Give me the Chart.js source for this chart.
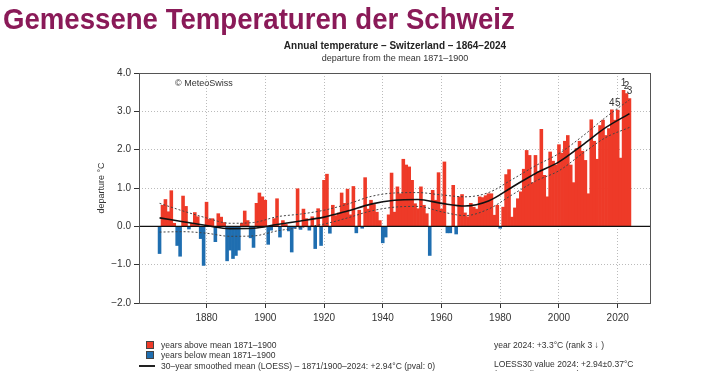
<!DOCTYPE html>
<html lang="en">
<head>
  <meta charset="UTF-8" />
  <title>Gemessene Temperaturen der Schweiz</title>
  <script src="https://cdn.jsdelivr.net/npm/chart.js"></script>
  <style>
    body {
      margin: 0;
      background: #fff;
      font-family: 'Liberation Sans', Arial, sans-serif;
    }
    .page {
      position: relative;
      width: 717px;
      height: 371px;
      overflow: hidden;
    }
    #chart { position: absolute; left: 0; top: 0; }
    .txt {
      position: absolute;
      white-space: nowrap;
      color: #222;
      line-height: 1;
    }
    .heading {
      left: 3px; top: 4px;
      font-size: 30px; font-weight: bold;
      color: #8a1a58;
      transform: scaleX(0.92);
      transform-origin: left top;
    }
    .ctitle { left: 395px; top: 41px; font-size: 10px; font-weight: bold; transform: translateX(-50%); }
    .csub { left: 395px; top: 54px; font-size: 9px; color: #333; transform: translateX(-50%); }
    .copy { left: 175px; top: 79px; font-size: 9px; color: #333; }
    .leg { font-size: 9.5px; color: #333; transform: scaleX(0.9); transform-origin: left top; }
    .sq { position: absolute; width: 6px; height: 6px; border: 1px solid #444; }
    .ln { position: absolute; height: 2px; background: #222; }
  </style>
</head>
<body>
  <div class="page">
    <canvas id="chart" width="717" height="371"></canvas>
    <div class="txt heading">Gemessene Temperaturen der Schweiz</div>
    <div class="txt ctitle">Annual temperature – Switzerland – 1864–2024</div>
    <div class="txt csub">departure from the mean 1871–1900</div>
    <div class="txt copy">© MeteoSwiss</div>

    <div class="sq" style="left:146px; top:341px; background:#ee3a28;"></div>
    <div class="txt leg" style="left:161px; top:340px;">years above mean 1871–1900</div>
    <div class="sq" style="left:146px; top:351px; background:#1f6eb0;"></div>
    <div class="txt leg" style="left:161px; top:350px;">years below mean 1871–1900</div>
    <div class="ln" style="left:139px; top:365px; width:16px;"></div>
    <div class="txt leg" style="left:161px; top:361px;">30–year smoothed mean (LOESS) – 1871/1900–2024: +2.94°C (pval: 0)</div>

    <div class="txt leg" style="left:494px; top:340px;">year 2024: +3.3°C (rank 3 ↓ )</div>
    <div class="txt leg" style="left:494px; top:359px;">LOESS30 value 2024: +2.94±0.37°C</div>
    <div class="txt leg" style="left:494px; top:369px;">(current climate mean)</div>
  </div>

  <script>
    // annual departure from 1871-1900 mean, one value per year from firstYear
    const firstYear = 1864;
    const temps = [
      -0.71, 0.55, 0.70, 0.38, 0.93, 0.08,
      -0.50, -0.78, 0.79, 0.52, -0.07, 0.08, 0.36, 0.25, -0.32, -1.02,
      0.63, 0.18, 0.20, -0.40, 0.33, 0.24, 0.10, -0.90, -0.62, -0.84,
      -0.76, -0.62, 0.08, 0.40, 0.15, -0.30, -0.55, 0.60, 0.87, 0.77,
      0.68, -0.47, -0.10, 0.20, 0.72, -0.28, 0.15, 0.05, -0.12, -0.67,
      -0.05, 0.98, -0.08, 0.45, 0.20, -0.10, 0.25, -0.58, 0.46, -0.50,
      1.20, 1.36, -0.18, 0.55, 0.28, 0.35, 0.87, 0.60, 0.97, 0.30,
      1.04, -0.17, 0.42, -0.05, 1.27, 0.45, 0.68, 0.57, 0.37, 0.15,
      -0.43, -0.28, 0.30, 1.39, 0.37, 1.03, 0.85, 1.75, 1.60, 1.55,
      1.20, 0.59, 0.46, 1.03, 0.55, 0.33, -0.76, 0.94, 0.68, 1.40,
      0.45, 1.68, -0.17, -0.17, 1.07, -0.20, 0.77, 0.83, 0.35, 0.25,
      0.60, 0.50, 0.45, 0.77, 0.75, 0.80, 0.85, 0.85, 0.29, 0.55,
      -0.05, 0.50, 1.35, 1.48, 0.24, 0.48, 0.72, 0.90, 1.49, 1.98,
      1.85, 1.14, 1.85, 1.43, 2.53, 1.33, 0.77, 1.94, 1.70, 1.60,
      2.13, 1.91, 2.22, 2.37, 1.60, 1.14, 2.03, 2.22, 1.96, 1.72,
      0.85, 2.78, 2.22, 1.75, 2.63, 2.77, 2.37, 2.55, 3.04, 2.77,
      3.03, 1.78, 3.55, 3.46, 3.33
    ];

    // 30-year LOESS curve and its band, read at these years
    const loessYears = [1864, 1872, 1880, 1888, 1896, 1904, 1912, 1920, 1928, 1936, 1944,
                        1952, 1960, 1968, 1976, 1984, 1992, 2000, 2008, 2016, 2024];
    const loessMean  = [0.22, 0.12, 0.02, -0.06, -0.05, 0.05, 0.14, 0.24, 0.40, 0.58, 0.68,
                        0.70, 0.60, 0.53, 0.66, 1.02, 1.38, 1.68, 2.12, 2.58, 2.94];
    const loessUpper = [0.60, 0.40, 0.22, 0.08, 0.10, 0.25, 0.32, 0.42, 0.58, 0.78, 0.87,
                        0.88, 0.82, 0.77, 0.88, 1.22, 1.58, 1.90, 2.35, 2.85, 3.30];
    const loessLower = [-0.15, -0.14, -0.18, -0.26, -0.25, -0.12, -0.03, 0.06, 0.22, 0.40, 0.50,
                        0.52, 0.38, 0.28, 0.45, 0.82, 1.18, 1.45, 1.90, 2.32, 2.58];

    const xTicks = [1880, 1900, 1920, 1940, 1960, 1980, 2000, 2020];
    const yTicks = [-2, -1, 0, 1, 2, 3, 4];

    // ranks of the five warmest years
    const rankYears = [2022, 2023, 2024, 2018, 2020];
    const rankTexts = ['1', '2', '3', '4', '5'];

    const RED = '#ee3a28';
    const BLUE = '#1f6eb0';

    const barData = temps.map((v, i) => ({ x: firstYear + i, y: v }));
    const toPoints = arr => arr.map((v, i) => ({ x: loessYears[i], y: v }));

    const frame = {
      id: 'frame',
      afterDatasetsDraw(chart) {
        const { ctx, chartArea: a, scales } = chart;
        const y0 = scales.y.getPixelForValue(0);
        ctx.save();
        ctx.strokeStyle = '#111';
        ctx.lineWidth = 1.2;
        ctx.beginPath();
        ctx.moveTo(a.left, y0);
        ctx.lineTo(a.right, y0);
        ctx.stroke();
        ctx.strokeStyle = '#555';
        ctx.lineWidth = 1;
        ctx.strokeRect(a.left + 0.5, a.top + 0.5, a.right - a.left, a.bottom - a.top);

        // rank numbers above the warmest bars
        const meta = chart.getDatasetMeta(3);
        ctx.fillStyle = '#333';
        ctx.font = '10px "Liberation Sans", Arial, sans-serif';
        ctx.textAlign = 'center';
        ctx.textBaseline = 'bottom';
        rankYears.forEach((yr, k) => {
          const el = meta.data[yr - firstYear];
          ctx.fillText(rankTexts[k], el.x, el.y - 2);
        });
        ctx.restore();
      }
    };

    new Chart(document.getElementById('chart'), {
      type: 'bar',
      data: {
        datasets: [
          {
            type: 'line', data: toPoints(loessMean), order: 0,
            borderColor: '#111', borderWidth: 1.6, pointRadius: 0,
            cubicInterpolationMode: 'monotone'
          },
          {
            type: 'line', data: toPoints(loessUpper), order: 0,
            borderColor: '#444', borderWidth: 1, borderDash: [2, 2], pointRadius: 0,
            cubicInterpolationMode: 'monotone'
          },
          {
            type: 'line', data: toPoints(loessLower), order: 0,
            borderColor: '#444', borderWidth: 1, borderDash: [2, 2], pointRadius: 0,
            cubicInterpolationMode: 'monotone'
          },
          {
            data: barData, order: 1,
            backgroundColor: ctx => (ctx.raw && ctx.raw.y < 0 ? BLUE : RED),
            barPercentage: 1, categoryPercentage: 1, borderWidth: 0
          }
        ]
      },
      options: {
        responsive: false,
        animation: false,
        devicePixelRatio: 1,
        layout: { padding: { left: 90, right: 67, top: 73, bottom: 46 } },
        plugins: { legend: { display: false }, tooltip: { enabled: false } },
        scales: {
          x: {
            type: 'linear', min: 1857, max: 2031, offset: false,
            afterBuildTicks: s => { s.ticks = xTicks.map(v => ({ value: v })); },
            afterFit: s => { s.height = 22; },
            ticks: { color: '#333', font: { size: 10, family: 'Liberation Sans' }, padding: 4,
                     callback: v => String(v), maxRotation: 0, autoSkip: false },
            grid: { color: '#bbb', tickLength: 5, tickColor: '#333', offset: false },
            border: { display: false, dash: [1, 2] }
          },
          y: {
            min: -2, max: 4,
            afterBuildTicks: s => { s.ticks = yTicks.map(v => ({ value: v })); },
            afterFit: s => { s.width = 49; },
            ticks: { color: '#333', font: { size: 10, family: 'Liberation Sans' }, padding: 3,
                     callback: v => (v < 0 ? '−' + Math.abs(v).toFixed(1) : v.toFixed(1)) },
            grid: { color: '#bbb', tickLength: 5, tickColor: '#333' },
            border: { display: false, dash: [1, 2] },
            title: { display: true, text: 'departure °C', color: '#333',
                     font: { size: 9, family: 'Liberation Sans' }, padding: { top: 6, bottom: 0 } }
          }
        }
      },
      plugins: [frame]
    });
  </script>
</body>
</html>
